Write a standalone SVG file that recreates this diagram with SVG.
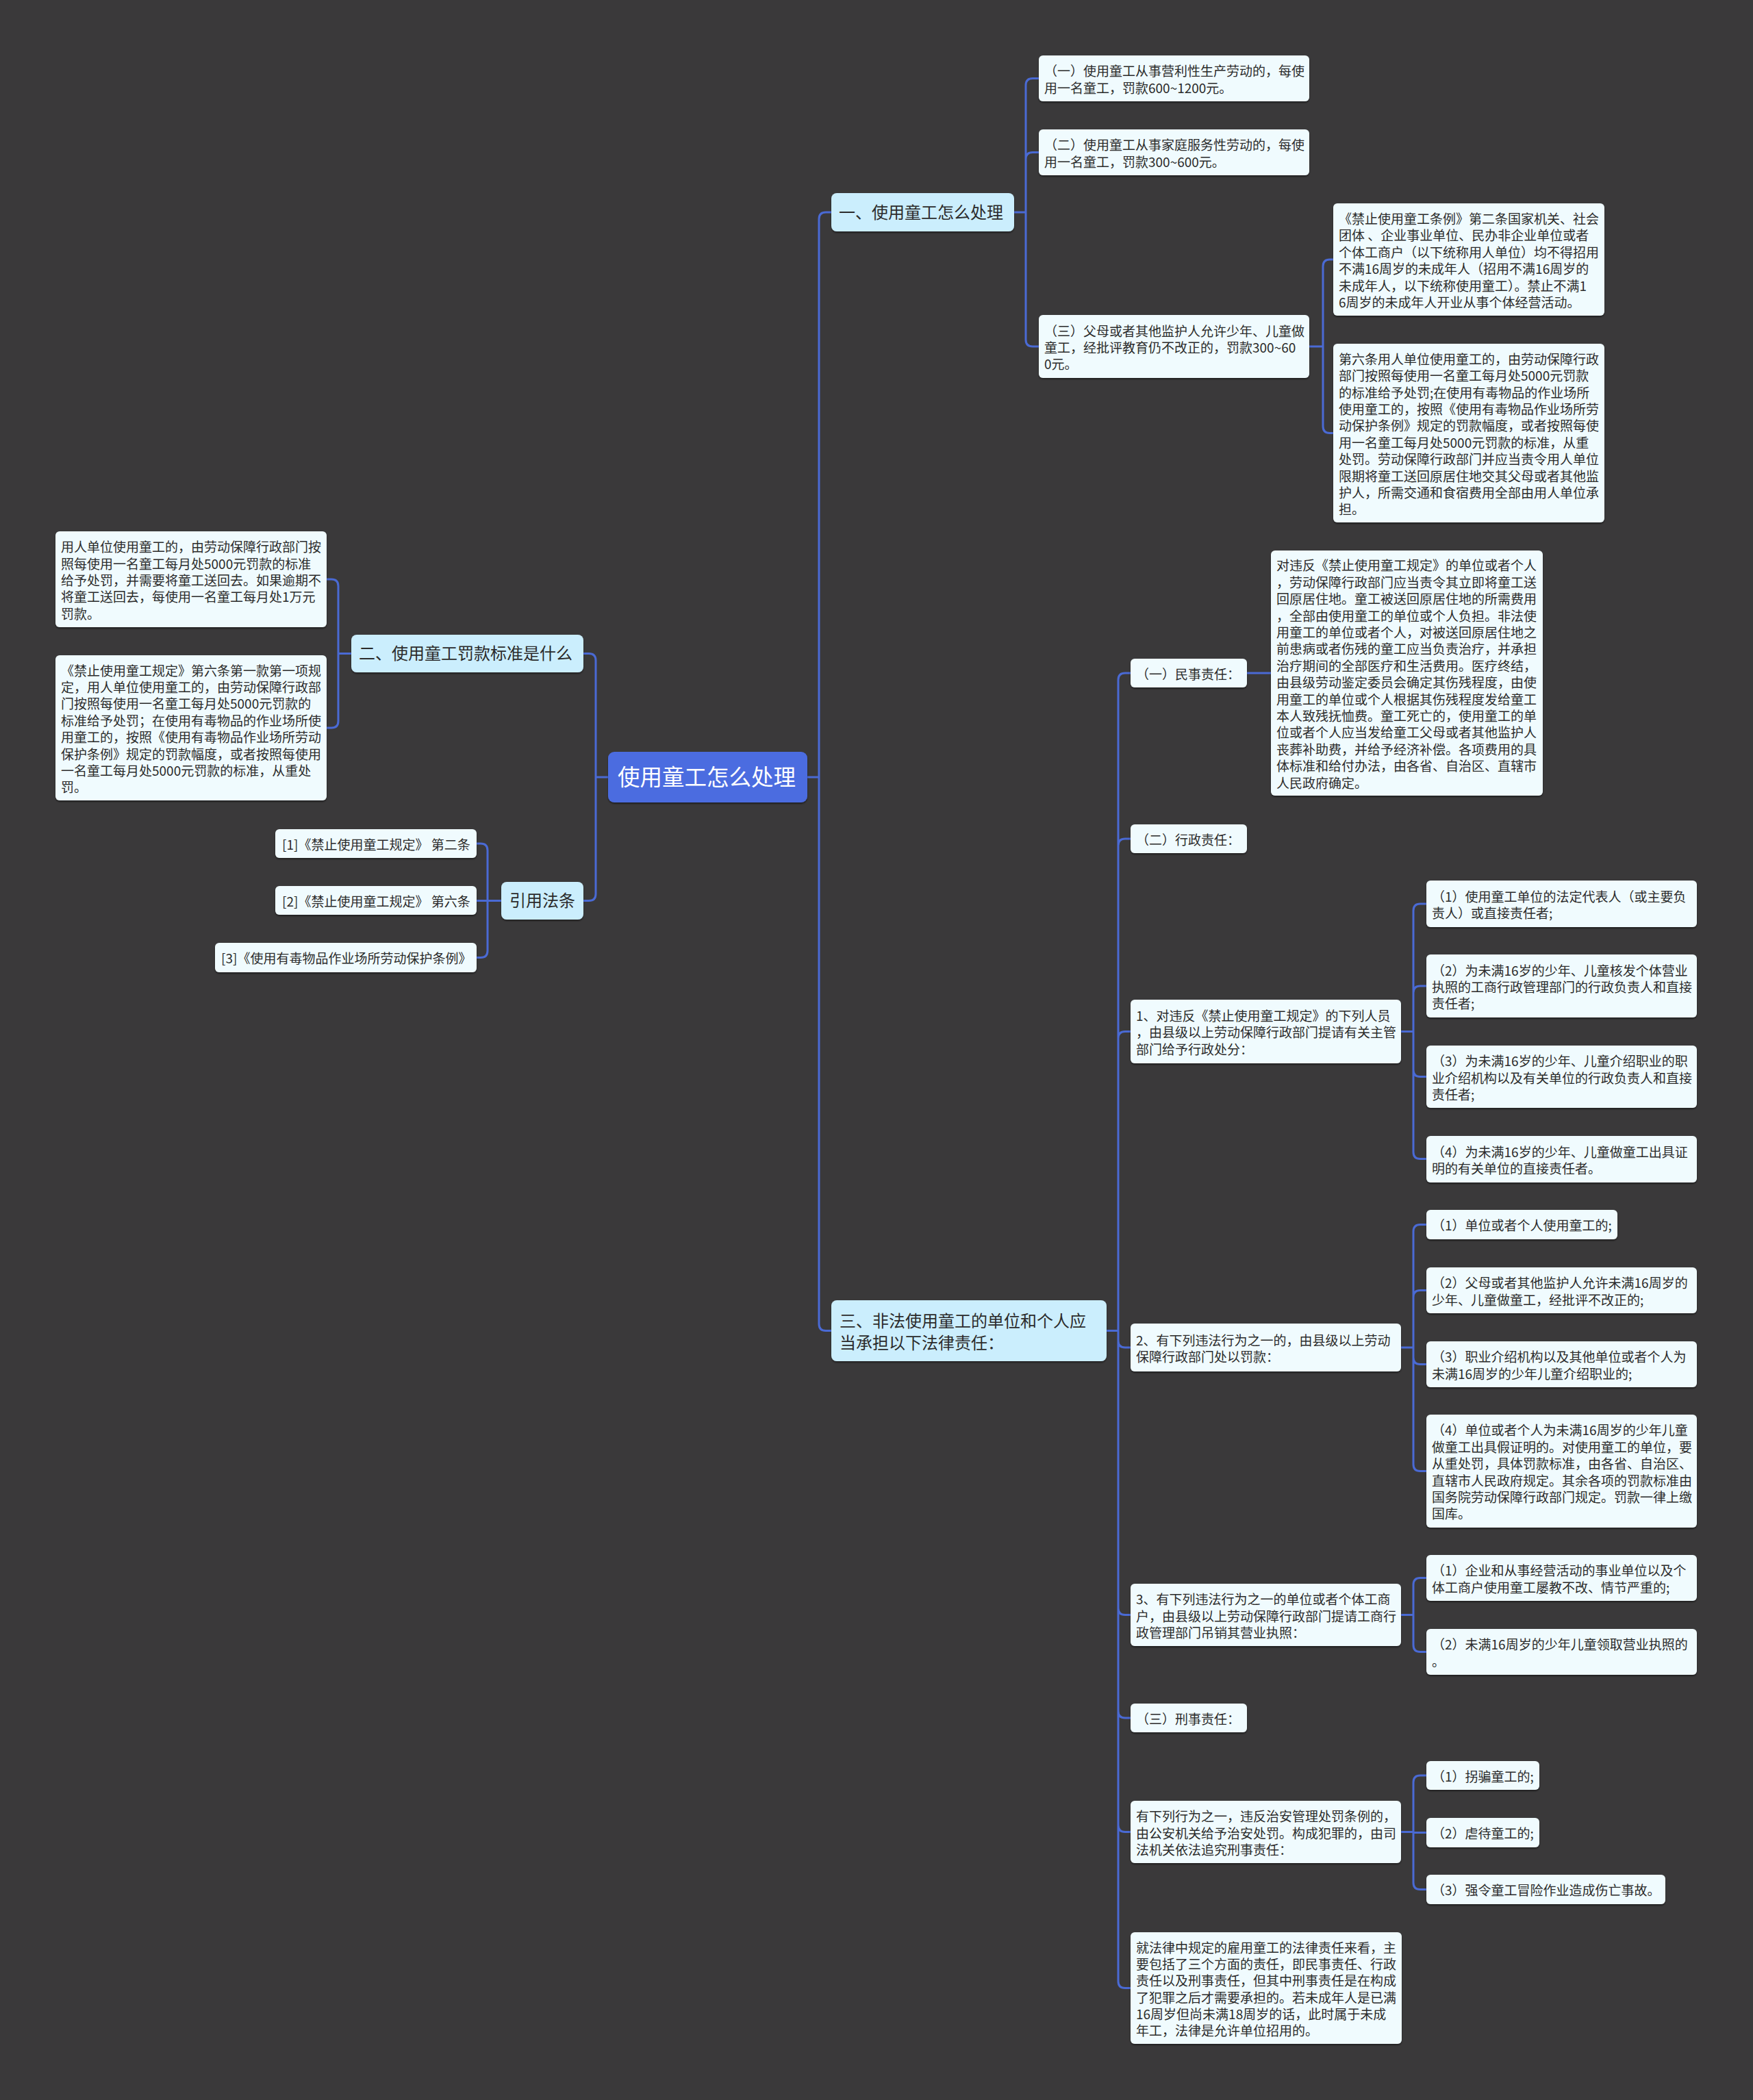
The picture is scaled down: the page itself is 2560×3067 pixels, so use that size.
<svg xmlns="http://www.w3.org/2000/svg" width="2560" height="3067" viewBox="0 0 2560 3067">
<defs>
<filter id="ds" x="-5%" y="-10%" width="110%" height="130%"><feDropShadow dx="0" dy="2" stdDeviation="1.2" flood-color="#000" flood-opacity="0.45"/></filter>
<style>
text{font-family:"Noto Sans CJK SC","Microsoft YaHei","Liberation Sans",sans-serif;fill:#2b2b2b;white-space:pre}
.t{font-size:19px;transform:translate(0px,1.5px)}
.t1{font-size:24px}
.tr{font-size:32.5px;fill:#ffffff}
.leaf rect{fill:#f0fbfe;filter:url(#ds)}
.l1 rect{fill:#cbeefd;filter:url(#ds)}
.root rect{fill:#4b6ce0;filter:url(#ds)}
#conn path{fill:none;stroke:#4a6ad4;stroke-width:3;stroke-linecap:round;stroke-linejoin:round}
</style>
</defs>
<rect x="0" y="0" width="2560" height="3067" fill="#3a393a"/>

<g id="conn">
<path d="M888,1135 H870 M870,1135 V964.5 Q870,954.5 860,954.5 H852 M870,1135 V1305.5 Q870,1315.5 860,1315.5 H852"/>
<path d="M1179,1135 H1196 M1196,1135 V320 Q1196,310 1206,310 H1214 M1196,1135 V1933.5 Q1196,1943.5 1206,1943.5 H1214"/>
<path d="M1481,310 H1498 M1498,310 V124.5 Q1498,114.5 1508,114.5 H1517 M1498,310 V232.5 Q1498,222.5 1508,222.5 H1517 M1498,310 V496 Q1498,506 1508,506 H1517"/>
<path d="M1912,506 H1932 M1932,506 V389 Q1932,379 1942,379 H1947 M1932,506 V622.5 Q1932,632.5 1942,632.5 H1947"/>
<path d="M513,954.5 H494 M494,954.5 V856 Q494,846 484,846 H477 M494,954.5 V1053 Q494,1063 484,1063 H477"/>
<path d="M732,1315.5 H712 M712,1315.5 V1242 Q712,1232 702,1232 H696 M712,1315.5 H696 M712,1315.5 V1388.5 Q712,1398.5 702,1398.5 H696"/>
<path d="M1616,1943.5 H1633 M1633,1943.5 V993 Q1633,983 1643,983 H1651 M1633,1943.5 V1235 Q1633,1225 1643,1225 H1651 M1633,1943.5 V1516.5 Q1633,1506.5 1643,1506.5 H1651 M1633,1943.5 V1958 Q1633,1968 1643,1968 H1651 M1633,1943.5 V2348.5 Q1633,2358.5 1643,2358.5 H1651 M1633,1943.5 V2499 Q1633,2509 1643,2509 H1651 M1633,1943.5 V2665.5 Q1633,2675.5 1643,2675.5 H1651 M1633,1943.5 V2893.5 Q1633,2903.5 1643,2903.5 H1651"/>
<path d="M1821,983 H1856"/>
<path d="M2046,1506.5 H2064 M2064,1506.5 V1330 Q2064,1320 2074,1320 H2083 M2064,1506.5 V1450 Q2064,1440 2074,1440 H2083 M2064,1506.5 V1562.5 Q2064,1572.5 2074,1572.5 H2083 M2064,1506.5 V1682.5 Q2064,1692.5 2074,1692.5 H2083"/>
<path d="M2046,1968 H2064 M2064,1968 V1798.5 Q2064,1788.5 2074,1788.5 H2083 M2064,1968 V1894.5 Q2064,1884.5 2074,1884.5 H2083 M2064,1968 V1982.5 Q2064,1992.5 2074,1992.5 H2083 M2064,1968 V2138.5 Q2064,2148.5 2074,2148.5 H2083"/>
<path d="M2046,2358.5 H2064 M2064,2358.5 V2314.5 Q2064,2304.5 2074,2304.5 H2083 M2064,2358.5 V2402.5 Q2064,2412.5 2074,2412.5 H2083"/>
<path d="M2046,2675.5 H2064 M2064,2675.5 V2603 Q2064,2593 2074,2593 H2083 M2064,2675.5 V2676.5 H2083 M2064,2675.5 V2749.5 Q2064,2759.5 2074,2759.5 H2083"/>
</g>

<g id="root" class="root"><rect x="888" y="1098" width="291" height="74" rx="9"/><text class="tr" x="902" y="1147">使用童工怎么处理</text></g>

<g id="n1" class="l1"><rect x="1214" y="282" width="267" height="56" rx="8"/><text class="t1" x="1225" y="319">一、使用童工怎么处理</text></g>
<g id="n1a" class="leaf"><rect x="1517" y="81" width="395" height="67" rx="6"/><text class="t"><tspan x="1525" y="109">（一）使用童工从事营利性生产劳动的，每使</tspan><tspan x="1525" y="134">用一名童工，罚款600~1200元。</tspan></text></g>
<g id="n1b" class="leaf"><rect x="1517" y="189" width="395" height="67" rx="6"/><text class="t"><tspan x="1525" y="217">（二）使用童工从事家庭服务性劳动的，每使</tspan><tspan x="1525" y="242">用一名童工，罚款300~600元。</tspan></text></g>
<g id="n1c" class="leaf"><rect x="1517" y="460" width="395" height="92" rx="6"/><text class="t"><tspan x="1525" y="489">（三）父母或者其他监护人允许少年、儿童做</tspan><tspan x="1525" y="513">童工，经批评教育仍不改正的，罚款300~60</tspan><tspan x="1525" y="537">0元。</tspan></text></g>
<g id="n1c1" class="leaf"><rect x="1947" y="297" width="396" height="164" rx="6"/><text class="t"><tspan x="1955" y="325">《禁止使用童工条例》第二条国家机关、社会</tspan><tspan x="1955" y="349">团体 、企业事业单位、民办非企业单位或者</tspan><tspan x="1955" y="374">个体工商户（以下统称用人单位）均不得招用</tspan><tspan x="1955" y="398">不满16周岁的未成年人（招用不满16周岁的</tspan><tspan x="1955" y="423">未成年人，以下统称使用童工）。禁止不满1</tspan><tspan x="1955" y="447">6周岁的未成年人开业从事个体经营活动。</tspan></text></g>
<g id="n1c2" class="leaf"><rect x="1947" y="502" width="396" height="261" rx="6"/><text class="t"><tspan x="1955" y="530">第六条用人单位使用童工的，由劳动保障行政</tspan><tspan x="1955" y="554">部门按照每使用一名童工每月处5000元罚款</tspan><tspan x="1955" y="579">的标准给予处罚;在使用有毒物品的作业场所</tspan><tspan x="1955" y="603">使用童工的，按照《使用有毒物品作业场所劳</tspan><tspan x="1955" y="627">动保护条例》规定的罚款幅度，或者按照每使</tspan><tspan x="1955" y="652">用一名童工每月处5000元罚款的标准，从重</tspan><tspan x="1955" y="676">处罚。劳动保障行政部门并应当责令用人单位</tspan><tspan x="1955" y="701">限期将童工送回原居住地交其父母或者其他监</tspan><tspan x="1955" y="725">护人，所需交通和食宿费用全部由用人单位承</tspan><tspan x="1955" y="749">担。</tspan></text></g>

<g id="n2" class="l1"><rect x="513" y="927" width="339" height="55" rx="8"/><text class="t1" x="524" y="963">二、使用童工罚款标准是什么</text></g>
<g id="n2a" class="leaf"><rect x="81" y="776" width="396" height="140" rx="6"/><text class="t"><tspan x="89" y="804">用人单位使用童工的，由劳动保障行政部门按</tspan><tspan x="89" y="829">照每使用一名童工每月处5000元罚款的标准</tspan><tspan x="89" y="853">给予处罚，并需要将童工送回去。如果逾期不</tspan><tspan x="89" y="877">将童工送回去，每使用一名童工每月处1万元</tspan><tspan x="89" y="902">罚款。</tspan></text></g>
<g id="n2b" class="leaf"><rect x="81" y="957" width="396" height="212" rx="6"/><text class="t"><tspan x="89" y="985">《禁止使用童工规定》第六条第一款第一项规</tspan><tspan x="89" y="1009">定，用人单位使用童工的，由劳动保障行政部</tspan><tspan x="89" y="1033">门按照每使用一名童工每月处5000元罚款的</tspan><tspan x="89" y="1058">标准给予处罚；在使用有毒物品的作业场所使</tspan><tspan x="89" y="1082">用童工的，按照《使用有毒物品作业场所劳动</tspan><tspan x="89" y="1107">保护条例》规定的罚款幅度，或者按照每使用</tspan><tspan x="89" y="1131">一名童工每月处5000元罚款的标准，从重处</tspan><tspan x="89" y="1155">罚。</tspan></text></g>

<g id="n3" class="l1"><rect x="732" y="1288" width="120" height="55" rx="8"/><text class="t1" x="744" y="1324">引用法条</text></g>
<g id="r1" class="leaf"><rect x="402" y="1211" width="294" height="42" rx="6"/><text class="t" x="412" y="1239">[1]《禁止使用童工规定》 第二条</text></g>
<g id="r2" class="leaf"><rect x="402" y="1294" width="294" height="42" rx="6"/><text class="t" x="412" y="1322">[2]《禁止使用童工规定》 第六条</text></g>
<g id="r3" class="leaf"><rect x="314" y="1377" width="382" height="43" rx="6"/><text class="t" x="323" y="1405">[3]《使用有毒物品作业场所劳动保护条例》</text></g>

<g id="n4" class="l1"><rect x="1214" y="1899" width="402" height="89" rx="8"/><text class="t1"><tspan x="1226" y="1938">三、非法使用童工的单位和个人应</tspan><tspan x="1226" y="1970">当承担以下法律责任：</tspan></text></g>

<g id="m1" class="leaf"><rect x="1651" y="962" width="170" height="42" rx="6"/><text class="t" x="1659" y="990">（一）民事责任：</text></g>
<g id="m1a" class="leaf"><rect x="1856" y="804" width="397" height="358" rx="6"/><text class="t"><tspan x="1864" y="831">对违反《禁止使用童工规定》的单位或者个人</tspan><tspan x="1864" y="856">，劳动保障行政部门应当责令其立即将童工送</tspan><tspan x="1864" y="880">回原居住地。童工被送回原居住地的所需费用</tspan><tspan x="1864" y="905">，全部由使用童工的单位或个人负担。非法使</tspan><tspan x="1864" y="929">用童工的单位或者个人，对被送回原居住地之</tspan><tspan x="1864" y="953">前患病或者伤残的童工应当负责治疗，并承担</tspan><tspan x="1864" y="978">治疗期间的全部医疗和生活费用。医疗终结，</tspan><tspan x="1864" y="1002">由县级劳动鉴定委员会确定其伤残程度，由使</tspan><tspan x="1864" y="1027">用童工的单位或个人根据其伤残程度发给童工</tspan><tspan x="1864" y="1051">本人致残抚恤费。童工死亡的，使用童工的单</tspan><tspan x="1864" y="1075">位或者个人应当发给童工父母或者其他监护人</tspan><tspan x="1864" y="1100">丧葬补助费，并给予经济补偿。各项费用的具</tspan><tspan x="1864" y="1124">体标准和给付办法，由各省、自治区、直辖市</tspan><tspan x="1864" y="1149">人民政府确定。</tspan></text></g>

<g id="m2" class="leaf"><rect x="1651" y="1204" width="170" height="42" rx="6"/><text class="t" x="1659" y="1232">（二）行政责任：</text></g>

<g id="m3" class="leaf"><rect x="1651" y="1460" width="395" height="93" rx="6"/><text class="t"><tspan x="1659" y="1489">1、对违反《禁止使用童工规定》的下列人员</tspan><tspan x="1659" y="1513">，由县级以上劳动保障行政部门提请有关主管</tspan><tspan x="1659" y="1538">部门给予行政处分：</tspan></text></g>
<g id="m3a" class="leaf"><rect x="2083" y="1286" width="395" height="68" rx="6"/><text class="t"><tspan x="2091" y="1315">（1）使用童工单位的法定代表人（或主要负</tspan><tspan x="2091" y="1339">责人）或直接责任者;</tspan></text></g>
<g id="m3b" class="leaf"><rect x="2083" y="1394" width="395" height="92" rx="6"/><text class="t"><tspan x="2091" y="1423">（2）为未满16岁的少年、儿童核发个体营业</tspan><tspan x="2091" y="1447">执照的工商行政管理部门的行政负责人和直接</tspan><tspan x="2091" y="1471">责任者;</tspan></text></g>
<g id="m3c" class="leaf"><rect x="2083" y="1527" width="395" height="91" rx="6"/><text class="t"><tspan x="2091" y="1555">（3）为未满16岁的少年、儿童介绍职业的职</tspan><tspan x="2091" y="1580">业介绍机构以及有关单位的行政负责人和直接</tspan><tspan x="2091" y="1604">责任者;</tspan></text></g>
<g id="m3d" class="leaf"><rect x="2083" y="1659" width="395" height="68" rx="6"/><text class="t"><tspan x="2091" y="1688">（4）为未满16岁的少年、儿童做童工出具证</tspan><tspan x="2091" y="1712">明的有关单位的直接责任者。</tspan></text></g>

<g id="m4" class="leaf"><rect x="1651" y="1933" width="395" height="70" rx="6"/><text class="t"><tspan x="1659" y="1963">2、有下列违法行为之一的，由县级以上劳动</tspan><tspan x="1659" y="1987">保障行政部门处以罚款：</tspan></text></g>
<g id="m4a" class="leaf"><rect x="2083" y="1767" width="279" height="43" rx="6"/><text class="t" x="2091" y="1795">（1）单位或者个人使用童工的;</text></g>
<g id="m4b" class="leaf"><rect x="2083" y="1851" width="395" height="67" rx="6"/><text class="t"><tspan x="2091" y="1879">（2）父母或者其他监护人允许未满16周岁的</tspan><tspan x="2091" y="1904">少年、儿童做童工，经批评不改正的;</tspan></text></g>
<g id="m4c" class="leaf"><rect x="2083" y="1959" width="395" height="67" rx="6"/><text class="t"><tspan x="2091" y="1987">（3）职业介绍机构以及其他单位或者个人为</tspan><tspan x="2091" y="2012">未满16周岁的少年儿童介绍职业的;</tspan></text></g>
<g id="m4d" class="leaf"><rect x="2083" y="2066" width="395" height="165" rx="6"/><text class="t"><tspan x="2091" y="2094">（4）单位或者个人为未满16周岁的少年儿童</tspan><tspan x="2091" y="2119">做童工出具假证明的。对使用童工的单位，要</tspan><tspan x="2091" y="2143">从重处罚，具体罚款标准，由各省、自治区、</tspan><tspan x="2091" y="2168">直辖市人民政府规定。其余各项的罚款标准由</tspan><tspan x="2091" y="2192">国务院劳动保障行政部门规定。罚款一律上缴</tspan><tspan x="2091" y="2216">国库。</tspan></text></g>

<g id="m5" class="leaf"><rect x="1651" y="2313" width="395" height="91" rx="6"/><text class="t"><tspan x="1659" y="2341">3、有下列违法行为之一的单位或者个体工商</tspan><tspan x="1659" y="2366">户，由县级以上劳动保障行政部门提请工商行</tspan><tspan x="1659" y="2390">政管理部门吊销其营业执照：</tspan></text></g>
<g id="m5a" class="leaf"><rect x="2083" y="2271" width="395" height="67" rx="6"/><text class="t"><tspan x="2091" y="2299">（1）企业和从事经营活动的事业单位以及个</tspan><tspan x="2091" y="2324">体工商户使用童工屡教不改、情节严重的;</tspan></text></g>
<g id="m5b" class="leaf"><rect x="2083" y="2379" width="395" height="67" rx="6"/><text class="t"><tspan x="2091" y="2407">（2）未满16周岁的少年儿童领取营业执照的</tspan><tspan x="2091" y="2432">。</tspan></text></g>

<g id="m6" class="leaf"><rect x="1651" y="2488" width="170" height="42" rx="6"/><text class="t" x="1659" y="2516">（三）刑事责任：</text></g>

<g id="m7" class="leaf"><rect x="1651" y="2630" width="395" height="91" rx="6"/><text class="t"><tspan x="1659" y="2658">有下列行为之一，违反治安管理处罚条例的，</tspan><tspan x="1659" y="2683">由公安机关给予治安处罚。构成犯罪的，由司</tspan><tspan x="1659" y="2707">法机关依法追究刑事责任：</tspan></text></g>
<g id="m7a" class="leaf"><rect x="2083" y="2572" width="165" height="42" rx="6"/><text class="t" x="2091" y="2600">（1）拐骗童工的;</text></g>
<g id="m7b" class="leaf"><rect x="2083" y="2655" width="165" height="43" rx="6"/><text class="t" x="2091" y="2683">（2）虐待童工的;</text></g>
<g id="m7c" class="leaf"><rect x="2083" y="2738" width="349" height="43" rx="6"/><text class="t" x="2091" y="2766">（3）强令童工冒险作业造成伤亡事故。</text></g>

<g id="m8" class="leaf"><rect x="1651" y="2822" width="396" height="163" rx="6"/><text class="t"><tspan x="1659" y="2850">就法律中规定的雇用童工的法律责任来看，主</tspan><tspan x="1659" y="2874">要包括了三个方面的责任，即民事责任、行政</tspan><tspan x="1659" y="2898">责任以及刑事责任，但其中刑事责任是在构成</tspan><tspan x="1659" y="2923">了犯罪之后才需要承担的。若未成年人是已满</tspan><tspan x="1659" y="2947">16周岁但尚未满18周岁的话，此时属于未成</tspan><tspan x="1659" y="2971">年工，法律是允许单位招用的。</tspan></text></g>
</svg>
